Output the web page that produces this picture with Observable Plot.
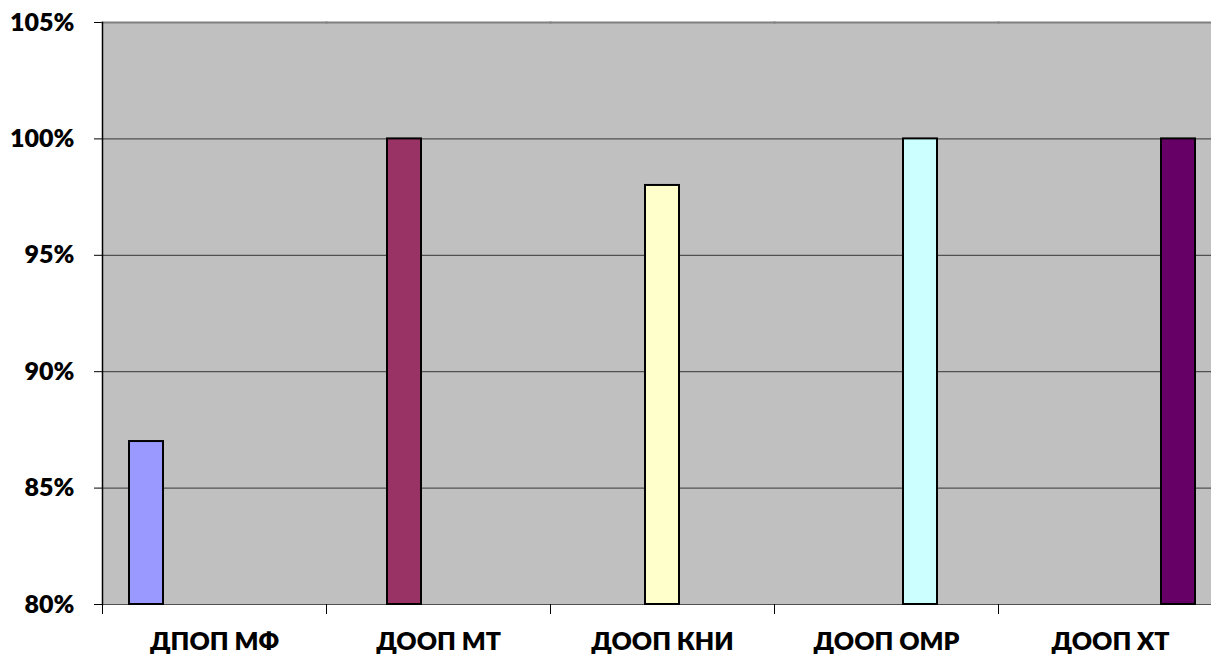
<!DOCTYPE html>
<html>
<head>
<meta charset="utf-8">
<script src="https://cdn.jsdelivr.net/npm/d3@7"></script>
<script src="https://cdn.jsdelivr.net/npm/@observablehq/plot@0.6"></script>
<style>
  html, body { margin: 0; padding: 0; background: #fff; overflow: hidden; }
  #chart svg { overflow: hidden; }
</style>
</head>
<body>
<div id="chart"></div>
<script>
const categories = ["ДПОП МФ", "ДООП МТ", "ДООП КНИ", "ДООП ОМР", "ДООП ХТ"];
const values = [0.87, 1.00, 0.98, 1.00, 1.00];
const colors = ["#9999FF", "#993366", "#FFFFCC", "#CCFFFF", "#660066"];
const yTicks = [0.80, 0.85, 0.90, 0.95, 1.00, 1.05];

const rows = categories.map((c, i) => ({category: c, series: c, value: values[i]}));

const W = 1211, H = 655;
const mTop = 22, mBottom = 51, mLeft = 102, mRight = -11;
const plotH = H - mTop - mBottom;

const chart = Plot.plot({
  width: W,
  height: H,
  marginTop: mTop,
  marginBottom: mBottom,
  marginLeft: mLeft,
  marginRight: mRight,
  style: {fontFamily: "Lato, 'Open Sans', sans-serif", fontSize: "25px", fontWeight: "800", color: "#000", background: "#fff"},
  fx: {domain: categories, padding: 0, tickSize: 0, tickPadding: 28, label: null},
  x: {domain: categories, axis: null, paddingInner: 0, paddingOuter: 0.745},
  y: {domain: [0.80, 1.05], ticks: yTicks, tickFormat: d3.format(".0%"), tickSize: 8, tickPadding: 20, label: null},
  color: {domain: categories, range: colors},
  marks: [
    Plot.frame({fill: "#C0C0C0", stroke: "none", facet: "super"}),
    Plot.gridY(yTicks, {stroke: "#505050", strokeOpacity: 1, strokeWidth: 1.2}),
    Plot.frame({anchor: "top", stroke: "#808080", strokeWidth: 2}),
    Plot.barY(rows, {fx: "category", x: "series", y1: 0.80, y2: "value", fill: "series", stroke: "#000", strokeWidth: 2}),
    Plot.frame({anchor: "left", insetTop: plotH, insetBottom: -9, stroke: "#000", strokeWidth: 1}),
    Plot.frame({anchor: "left", facet: "super", stroke: "#000", strokeWidth: 1.5})
  ]
});
document.getElementById("chart").appendChild(chart);
</script>
</body>
</html>
